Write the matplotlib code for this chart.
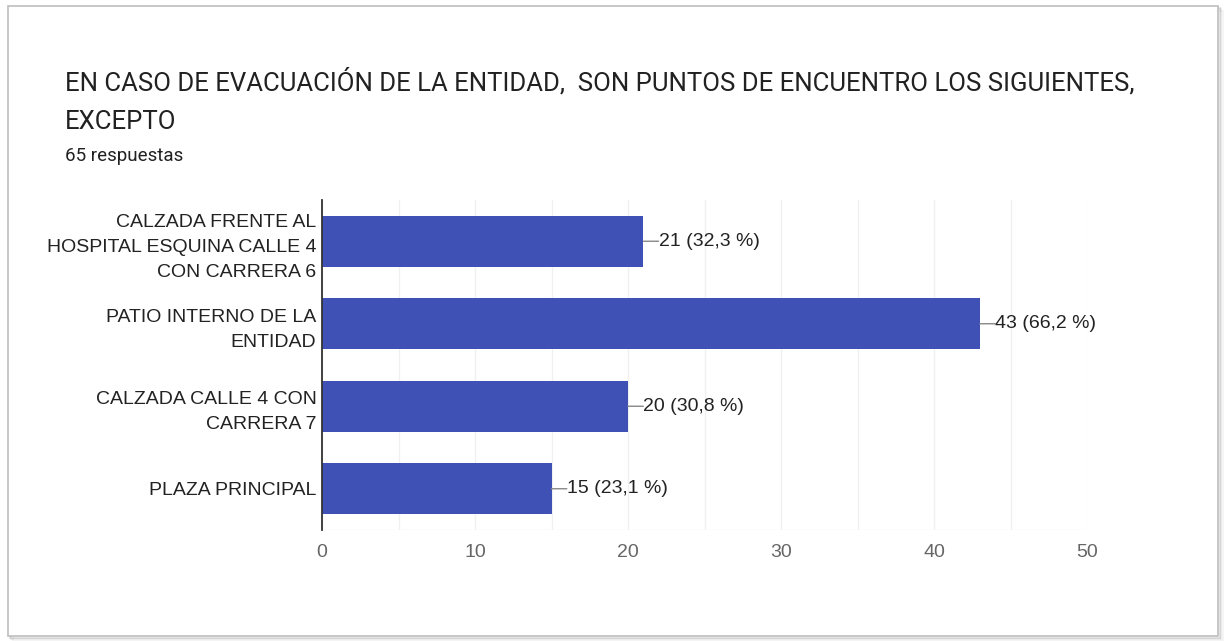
import matplotlib.pyplot as plt
from matplotlib.patches import Rectangle

categorias = ["CALZADA FRENTE AL\nHOSPITAL ESQUINA CALLE 4\nCON CARRERA 6",
              "PATIO INTERNO DE LA\nENTIDAD",
              "CALZADA CALLE 4 CON\nCARRERA 7",
              "PLAZA PRINCIPAL"]
respuestas = [21, 43, 20, 15]
porcentajes = ["32,3", "66,2", "30,8", "23,1"]
xticks = [0, 10, 20, 30, 40, 50]

W, H = 1225, 641
fig = plt.figure(figsize=(W / 100, H / 100), dpi=100)
fig.patch.set_facecolor("white")

# card border with soft shadow
for i, a in enumerate([0.10, 0.07, 0.04]):
    d = (i + 1) * 1.5
    fig.patches.append(Rectangle((8 / W + d / W, 5 / H - d / H), 1210 / W, 630 / H,
                                 transform=fig.transFigure, fill=False, zorder=-2,
                                 edgecolor="black", alpha=a, lw=1.5))
fig.patches.append(Rectangle((8 / W, 5 / H), 1210 / W, 630 / H, transform=fig.transFigure,
                             facecolor="white", edgecolor="#bdbdbd", lw=1.2, zorder=-1))

fig.text(65 / W, 1 - 82 / H, "EN CASO DE EVACUACIÓN DE LA ENTIDAD,  SON PUNTOS DE ENCUENTRO LOS SIGUIENTES,",
         fontsize=18.5, color="#212121", family="Roboto", va="center")
fig.text(65 / W, 1 - 122 / H, "EXCEPTO", fontsize=18.5, color="#212121", family="Roboto", va="center")
fig.text(65 / W, 1 - 156 / H, "65 respuestas", fontsize=13.5, color="#212121", family="Roboto", va="center")

ax = fig.add_axes([322 / W, 1 - 530 / H, (1087 - 322) / W, 330 / H])
ax.set_zorder(2)
ax.patch.set_alpha(0)
y = list(range(len(categorias)))
ax.barh(y, respuestas, height=0.62, color="#3f51b5", zorder=3)
ax.set_ylim(len(categorias) - 0.5, -0.5)
ax.set_xlim(0, 50)
ax.set_xticks(xticks)
ax.set_xticks(range(5, 50, 10), minor=True)
ax.set_xticklabels([str(t) for t in xticks], fontsize=14, color="#666666", family="Liberation Sans")
ax.tick_params(axis="x", which="both", length=0, pad=10)
ax.set_yticks(y)
ax.set_yticklabels(categorias, fontsize=14, color="#222222", family="Liberation Sans", linespacing=1.62)
ax.tick_params(axis="y", length=0, pad=4)
ax.grid(axis="x", which="both", color="#f0f0f0", lw=1, zorder=0)
for s in ["top", "right", "bottom"]:
    ax.spines[s].set_visible(False)
ax.spines["left"].set_color("#333333")
ax.spines["left"].set_linewidth(1.3)
ax.spines["left"].set_zorder(4)
# bottom grid edge
ax.axhline(len(categorias) - 0.5, color="#f0f0f0", lw=1, zorder=0)

for yi, v, p in zip(y, respuestas, porcentajes):
    ax.annotate("", xy=(v, yi), xytext=(v + 1.0, yi),
                arrowprops=dict(arrowstyle="-", color="#888888", lw=1, shrinkA=0, shrinkB=0))
    ax.text(v + 1.0, yi, f"{v} ({p} %)", va="center", ha="left", fontsize=14,
            color="#222222", family="Liberation Sans")

fig.savefig("out.png", dpi=100)
